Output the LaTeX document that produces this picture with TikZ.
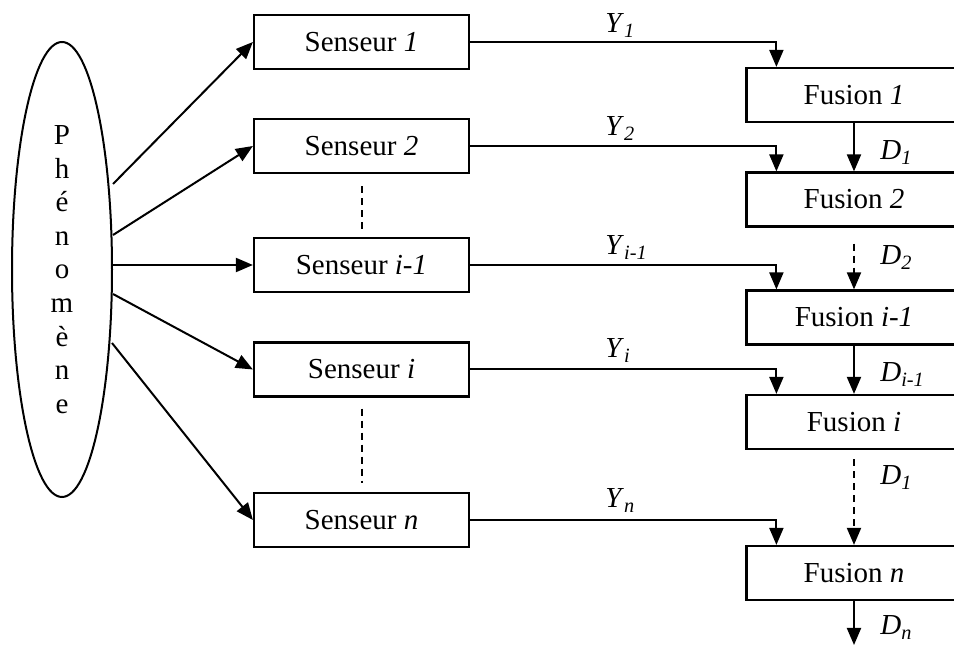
\documentclass[tikz,border=0pt]{standalone}
\usepackage{fontspec}
\setmainfont{Liberation Serif}
\usetikzlibrary{arrows.meta,calc,shapes.geometric}
\begin{document}
\begin{tikzpicture}[x=0.5pt,y=-0.5pt,
  font=\fontsize{14.5}{16.8}\selectfont,
  box/.style={draw,line width=1.1pt,minimum width=107.5pt,minimum height=27pt,inner sep=0pt},
  link/.style={line width=1pt,-{Triangle[length=8.5pt,width=7pt]}},
  dots/.style={line width=1pt,dash pattern=on 3.5pt off 2.5pt},
  lab/.style={anchor=base west,inner sep=0pt},
]
\useasboundingbox (0,0) rectangle (954,646);
\clip (0,0) rectangle (954,646);

% the observed phenomenon
\node[ellipse,draw,line width=1pt,minimum width=50pt,minimum height=227.5pt,
      inner sep=0pt,align=center] (ph) at (62,269.5)
      {P\\h\\é\\n\\o\\m\\è\\n\\e};

% sensors
\node[box] (s1)  at (361.5,42)    {Senseur \textit{1}};
\node[box] (s2)  at (361.5,146)   {Senseur \textit{2}};
\node[box] (sj)  at (361.5,265)   {Senseur \textit{i}-\textit{1}};
\node[box] (si)  at (361.5,369.5) {Senseur \textit{i}};
\node[box] (sn)  at (361.5,520)   {Senseur \textit{n}};

% fusion stages
\node[box] (f1)  at (854,95)    {Fusion \textit{1}};
\node[box] (f2)  at (854,199.5) {Fusion \textit{2}};
\node[box] (fj)  at (854,317.5) {Fusion \textit{i}-\textit{1}};
\node[box] (fi)  at (854,422)   {Fusion \textit{i}};
\node[box] (fn)  at (854,573)   {Fusion \textit{n}};

% ends of the rays leaving the phenomenon
\coordinate (p1) at (113,184);
\coordinate (p2) at (113,235);
\coordinate (p3) at (113,265);
\coordinate (p4) at (113,294);
\coordinate (p5) at (112,343);
\coordinate (out) at (854,645);

\draw[link] (p1) -- (s1.west);
\draw[link] (p2) -- (s2.west);
\draw[link] (p3) -- (sj.west);
\draw[link] (p4) -- (si.west);
\draw[link] (p5) -- (sn.west);

% elided sensors
\draw[dots,shorten <=6pt,shorten >=3pt] (s2) -- (sj);
\draw[dots,shorten <=5.5pt,shorten >=4.5pt] (si) -- (sn);

% sensor outputs into the fusion chain
\draw[link] (s1.east) -| ($(f1.north west)+(31,0)$);
\draw[link] (s2.east) -| ($(f2.north west)+(31,0)$);
\draw[link] (sj.east) -| ($(fj.north west)+(31,0)$);
\draw[link] (si.east) -| ($(fi.north west)+(31,0)$);
\draw[link] (sn.east) -| ($(fn.north west)+(31,0)$);

\node[lab] (y1) at (605,33)  {\textit{Y}\textsubscript{\textit{1}}};
\node[lab] (y2) at (605,136) {\textit{Y}\textsubscript{\textit{2}}};
\node[lab] (yj) at (605,255) {\textit{Y}\textsubscript{\textit{i}-\textit{1}}};
\node[lab] (yi) at (605,358) {\textit{Y}\textsubscript{\textit{i}}};
\node[lab] (yn) at (605,508) {\textit{Y}\textsubscript{\textit{n}}};

% decisions passed down the chain
\draw[link] (f1) -- (f2);
\draw[link,dots,shorten <=8pt] (f2) -- (fj);
\draw[link] (fj) -- (fi);
\draw[link,dots,shorten <=4.5pt] (fi) -- (fn);
\draw[link] (fn) -- (out);

\node[lab] (d1) at (880,160) {\textit{D}\textsubscript{\textit{1}}};
\node[lab] (d2) at (880,265) {\textit{D}\textsubscript{\textit{2}}};
\node[lab] (dj) at (880,382) {\textit{D}\textsubscript{\textit{i}-\textit{1}}};
\node[lab] (dk) at (880,485) {\textit{D}\textsubscript{\textit{1}}};
\node[lab] (dn) at (880,635) {\textit{D}\textsubscript{\textit{n}}};
\end{tikzpicture}
\end{document}
